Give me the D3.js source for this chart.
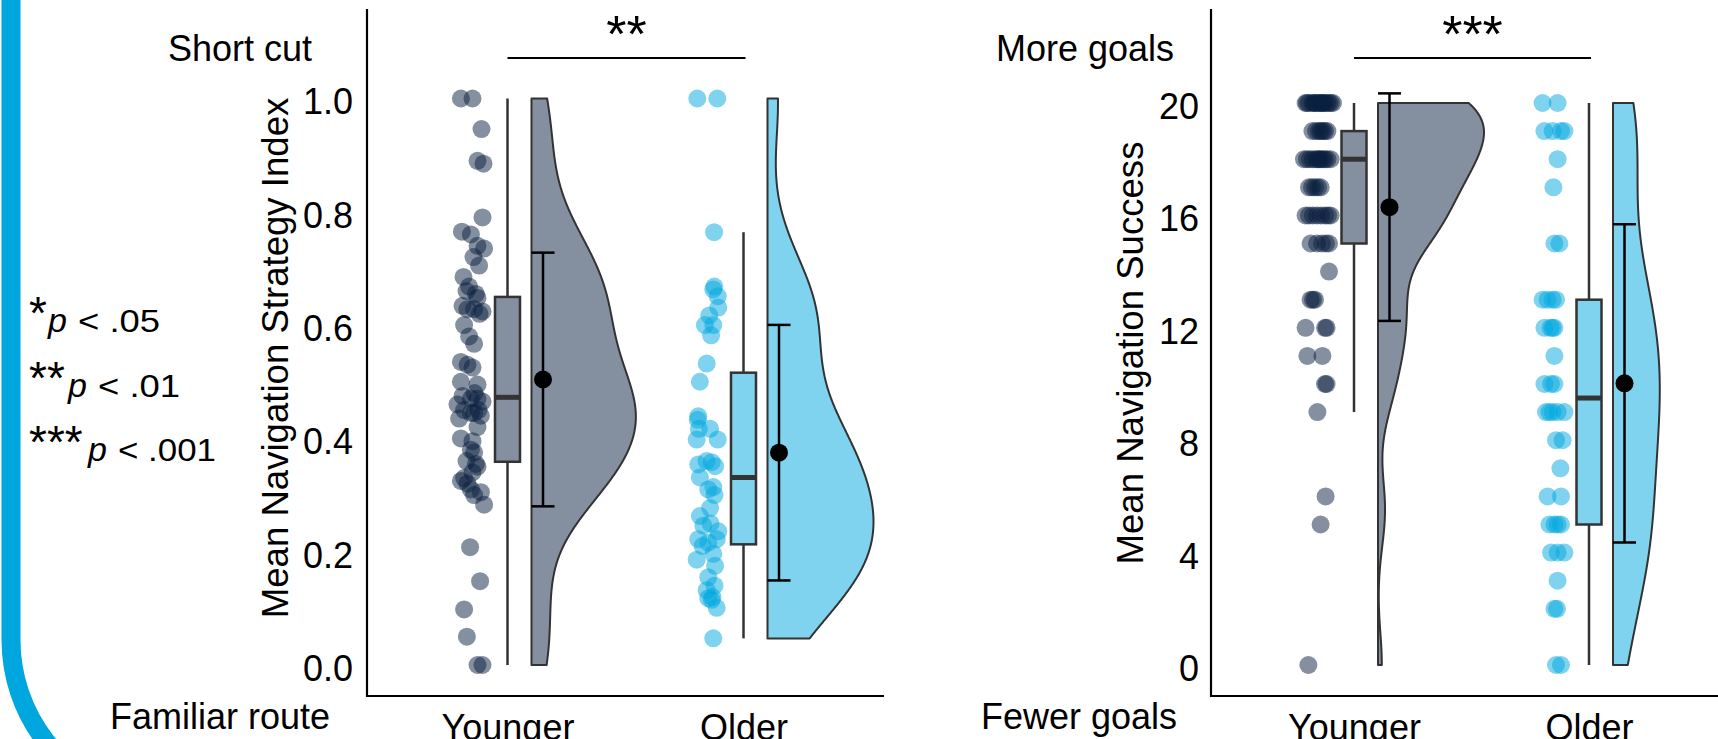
<!DOCTYPE html>
<meta charset="utf-8">
<script src="https://d3js.org/d3.v7.min.js"></script>
<body style="margin: 0; background: #fff;">
<svg id="chart" width="1718" height="739"></svg>
</body>

<style>
  text { font-family: "Liberation Sans", Arial, Helvetica, sans-serif; fill: #000; }
</style>

<script>
// ---- data ----
var groups = ["Younger", "Older"];
var groupColors = ["#0a1f40", "#00a7df"];

// Mean Navigation Strategy Index (one point per participant) + horizontal jitter (-1..1)
var strategyYounger = [1.0, 1.0, 0.946, 0.89, 0.885, 0.79, 0.765, 0.76, 0.74, 0.735, 0.72, 0.705,
  0.685, 0.668, 0.66, 0.655, 0.648, 0.634, 0.628, 0.628, 0.624, 0.62, 0.60, 0.58, 0.567, 0.535,
  0.53, 0.525, 0.50, 0.495, 0.48, 0.475, 0.47, 0.47, 0.465, 0.46, 0.45, 0.45, 0.445, 0.44, 0.445,
  0.435, 0.42, 0.40, 0.395, 0.38, 0.375, 0.36, 0.355, 0.35, 0.34, 0.33, 0.325, 0.32, 0.31, 0.305,
  0.30, 0.283, 0.208, 0.148, 0.098, 0.05, 0.0, 0.0];
var strategyYoungerJitter = [-0.58, 0, 0.45, 0.25, 0.55, 0.5, -0.53, -0.08, 0.25, 0.58, 0.05, 0.33,
  -0.45, -0.17, -0.3, 0.17, 0.25, -0.5, -0.25, 0.08, 0.5, 0.35, -0.42, -0.17, 0.08, -0.58,
  -0.25, 0, -0.58, 0.25, 0.1, -0.5, -0.08, 0.25, 0.5, -0.75, -0.42, 0.3, 0.08, 0.42, -0.08,
  -0.67, 0.25, -0.58, 0, -0.08, 0.08, -0.3, 0.17, 0.25, 0, -0.42, -0.58, -0.25, -0.08, 0.42,
  0.08, 0.58, -0.12, 0.38, -0.42, -0.28, 0.25, 0.5];

var strategyOlder = [1.0, 1.0, 0.764, 0.668, 0.663, 0.651, 0.631, 0.617, 0.60, 0.60, 0.582, 0.532,
  0.50, 0.439, 0.433, 0.417, 0.417, 0.398, 0.398, 0.36, 0.358, 0.354, 0.351, 0.331, 0.314, 0.31,
  0.30, 0.277, 0.263, 0.25, 0.246, 0.236, 0.222, 0.222, 0.216, 0.21, 0.196, 0.186, 0.175, 0.155,
  0.14, 0.132, 0.12, 0.118, 0.115, 0.101, 0.047];
var strategyOlderJitter = [-0.56, 0.44, 0.28, 0.29, 0.24, 0.46, 0.49, 0.04, -0.18, 0.24, 0.13, -0.09,
  -0.43, -0.51, -0.54, -0.48, 0.08, -0.59, 0.46, -0.1, 0.16, -0.51, 0.33, -0.43, 0.24, -0.01,
  0.3, 0.08, -0.43, 0.1, -0.26, 0.49, -0.51, 0.41, -0.01, -0.3, 0.24, -0.59, 0.33, -0.01,
  0.3, -0.09, 0.2, -0.01, 0.16, 0.41, 0.24];

// Mean Navigation Success (goals reached, 0..20)
var successYounger = [20, 20, 20, 20, 20, 20, 20, 20, 20, 20, 20, 20, 20, 20, 20, 20,
  19, 19, 19, 19, 19, 19, 19,
  18, 18, 18, 18, 18, 18, 18, 18, 18, 18, 18, 18,
  17, 17, 17, 17, 17,
  16, 16, 16, 16, 16, 16, 16, 16,
  15, 15, 15, 15, 15,
  14, 13, 13, 13, 12, 12, 12, 11, 11, 10, 10, 9, 6, 5, 0];
var successYoungerJitter = [-0.67, -0.5, -0.33, -0.2, -0.1, 0, 0.1, 0.2, 0.3, 0.4, 0.5, 0.6, 0.7, -0.6, 0.15, -0.25,
  -0.33, -0.15, 0, 0.1, 0.2, 0.3, 0.42,
  -0.75, -0.6, -0.45, -0.3, -0.15, 0, 0.1, 0.2, 0.3, 0.42, 0.58, -0.05,
  -0.5, -0.35, -0.2, -0.05, 0.08,
  -0.67, -0.5, -0.3, -0.1, 0.1, 0.3, 0.45, 0.58,
  -0.42, -0.1, 0.15, 0.35, 0.5,
  0.5, -0.42, -0.3, -0.2, -0.67, 0.3, 0.38, -0.58, 0.17, 0.3, 0.38, -0.08, 0.33, 0.08, -0.53];

var successOlder = [20, 20, 19, 19, 19, 19, 18, 17, 15, 15,
  13, 13, 13, 13, 12, 12, 12, 12, 11, 10, 10, 10,
  9, 9, 9, 9, 9, 8, 8, 7, 6, 6,
  5, 5, 5, 5, 4, 4, 4, 3, 2, 2, 0, 0];
var successOlderJitter = [-0.57, 0.18, -0.48, -0.07, 0.35, 0.52, 0.18, -0.03, 0.02, 0.27,
  -0.57, -0.32, -0.07, 0.1, -0.18, -0.48, -0.07, 0.02, 0.02, -0.48, -0.15, 0.02,
  -0.4, -0.23, -0.07, 0.52, 0.18, 0.1, 0.43, 0.32, -0.32, 0.35,
  -0.23, 0.02, 0.35, 0.18, -0.15, 0.18, 0.52, 0.18, 0.02, 0.15, 0.1, 0.35];

var strategyTicks = [0, 0.2, 0.4, 0.6, 0.8, 1.0];
var successTicks = [0, 4, 8, 12, 16, 20];
var pStars = ["*", "**", "***"];
var pValues = [".05", ".01", ".001"];

// ---- layout ----
var svg = d3.select("#chart");
var AXIS_Y = 696, AXIS_TOP = 9;
var VIOLIN_MAX = 106;

var panels = [
  { values: [strategyYounger, strategyOlder], jitter: [strategyYoungerJitter, strategyOlderJitter],
    domain: [0, 1], range: [665, 98.5], ticks: strategyTicks, fmt: d3.format(".1f"),
    axisX: 367, axisEnd: 884, centers: [507.5, 743.5], tickPad: 14,
    title: "Mean Navigation Strategy Index", titleX: 288, titleY: 358,
    top: "Short cut", topX: 312, bottom: "Familiar route", bottomX: 330, sig: "**" },
  { values: [successYounger, successOlder], jitter: [successYoungerJitter, successOlderJitter],
    domain: [0, 20], range: [665, 103], ticks: successTicks, fmt: d3.format("d"),
    axisX: 1211, axisEnd: 1718, centers: [1354, 1589], tickPad: 12,
    title: "Mean Navigation Success", titleX: 1143, titleY: 353,
    top: "More goals", topX: 1174, bottom: "Fewer goals", bottomX: 1177, sig: "***" }
];

function gauss(u) { return Math.exp(-0.5 * u * u) / Math.sqrt(2 * Math.PI); }

// R's bw.nrd0
function bwNrd0(v) {
  var s = v.slice().sort(d3.ascending);
  var iqr = d3.quantile(s, 0.75) - d3.quantile(s, 0.25);
  var lo = Math.min(d3.deviation(s), iqr / 1.34);
  return 0.9 * lo * Math.pow(s.length, -0.2);
}

// gaussian kde, trimmed to the data range
function density(v) {
  var bw = bwNrd0(v), lo = d3.min(v), hi = d3.max(v);
  return d3.range(512).map(function(i) {
    var t = lo + (hi - lo) * i / 511;
    return [t, d3.mean(v, function(d) { return gauss((t - d) / bw); }) / bw];
  });
}

panels.forEach(function(p) {
  var y = d3.scaleLinear().domain(p.domain).range(p.range);
  var x = d3.scalePoint().domain(groups).range(p.centers);
  var g = svg.append("g");

  // y axis labels
  var ax = g.append("g")
      .attr("transform", "translate(" + p.axisX + ",0)")
      .call(d3.axisLeft(y).tickValues(p.ticks).tickSize(0).tickPadding(p.tickPad).tickFormat(p.fmt));
  ax.select(".domain").remove();
  ax.selectAll("text").attr("font-size", 36).attr("dy", "0.43em")
    .style("font-family", "'Liberation Sans', Arial, sans-serif");

  // x axis labels
  var bx = g.append("g")
      .attr("transform", "translate(0," + AXIS_Y + ")")
      .call(d3.axisBottom(x).tickSize(0).tickPadding(18));
  bx.select(".domain").remove();
  bx.selectAll("text").attr("font-size", 36)
    .style("font-family", "'Liberation Sans', Arial, sans-serif");

  // axis lines
  g.append("line").attr("x1", p.axisX).attr("x2", p.axisX).attr("y1", AXIS_TOP).attr("y2", AXIS_Y + 1)
    .attr("stroke", "#000").attr("stroke-width", 2.2);
  g.append("line").attr("x1", p.axisX).attr("x2", p.axisEnd).attr("y1", AXIS_Y).attr("y2", AXIS_Y)
    .attr("stroke", "#000").attr("stroke-width", 2.2);

  // titles
  g.append("text")
    .attr("transform", "translate(" + p.titleX + "," + p.titleY + ") rotate(-90)")
    .attr("text-anchor", "middle").attr("font-size", 36.6).text(p.title);
  g.append("text").attr("x", p.topX).attr("y", 61).attr("text-anchor", "end")
    .attr("font-size", 36).text(p.top);
  g.append("text").attr("x", p.bottomX).attr("y", 729).attr("text-anchor", "end")
    .attr("font-size", 36).text(p.bottom);

  // significance bracket
  g.append("line").attr("x1", x(groups[0])).attr("x2", x(groups[1]) + 2)
    .attr("y1", 58).attr("y2", 58).attr("stroke", "#000").attr("stroke-width", 1.8);
  g.append("text").attr("x", (x(groups[0]) + x(groups[1])) / 2 + 1).attr("y", 52)
    .attr("text-anchor", "middle").attr("font-size", 52).text(p.sig);

  // violin densities, area-scaled within the panel
  var dens = p.values.map(density);
  var maxD = d3.max(dens, function(d) { return d3.max(d, function(e) { return e[1]; }); });

  groups.forEach(function(grp, i) {
    var c = x(grp);
    var vals = p.values[i];
    var sorted = vals.slice().sort(d3.ascending);
    var col = groupColors[i];
    var q1 = d3.quantile(sorted, 0.25), med = d3.quantile(sorted, 0.5), q3 = d3.quantile(sorted, 0.75);
    var iqr = q3 - q1;
    var wLo = d3.min(sorted.filter(function(v) { return v >= q1 - 1.5 * iqr; }));
    var wHi = d3.max(sorted.filter(function(v) { return v <= q3 + 1.5 * iqr; }));
    var mean = d3.mean(vals), sd = d3.deviation(vals);

    // jittered points
    g.append("g").selectAll("circle")
      .data(vals.map(function(v, k) { return [v, p.jitter[i][k]]; }))
      .join("circle")
        .attr("cx", function(d) { return c - 35 + d[1] * 20; })
        .attr("cy", function(d) { return y(d[0]); })
        .attr("r", 9)
        .attr("fill", col).attr("fill-opacity", 0.5);

    // boxplot
    var bw = 12.5;
    g.append("line").attr("x1", c).attr("x2", c).attr("y1", y(wHi)).attr("y2", y(q3))
      .attr("stroke", "#333").attr("stroke-width", 2.5);
    g.append("line").attr("x1", c).attr("x2", c).attr("y1", y(q1)).attr("y2", y(wLo))
      .attr("stroke", "#333").attr("stroke-width", 2.5);
    g.append("rect").attr("x", c - bw).attr("width", 2 * bw)
      .attr("y", y(q3)).attr("height", y(q1) - y(q3))
      .attr("fill", col).attr("fill-opacity", 0.5)
      .attr("stroke", "#333").attr("stroke-width", 2.5);
    g.append("line").attr("x1", c - bw).attr("x2", c + bw).attr("y1", y(med)).attr("y2", y(med))
      .attr("stroke", "#333").attr("stroke-width", 5);

    // half violin
    var x0 = c + 24;
    var area = d3.area()
      .y(function(d) { return y(d[0]); })
      .x0(x0)
      .x1(function(d) { return x0 + d[1] / maxD * VIOLIN_MAX; });
    g.append("path").datum(dens[i]).attr("d", area)
      .attr("fill", col).attr("fill-opacity", 0.5)
      .attr("stroke", "#333").attr("stroke-width", 2).attr("stroke-linejoin", "round");

    // mean +/- SD
    var ex = c + 35.5;
    g.append("line").attr("x1", ex).attr("x2", ex).attr("y1", y(mean + sd)).attr("y2", y(mean - sd))
      .attr("stroke", "#000").attr("stroke-width", 2.5);
    [mean + sd, mean - sd].forEach(function(v) {
      g.append("line").attr("x1", ex - 11.5).attr("x2", ex + 11.5).attr("y1", y(v)).attr("y2", y(v))
        .attr("stroke", "#000").attr("stroke-width", 2.5);
    });
    g.append("circle").attr("cx", ex).attr("cy", y(mean)).attr("r", 9).attr("fill", "#000");
  });
});

// blue bracket on the left edge
svg.append("path")
  .attr("d", "M11,-5 V640 A165,165 0 0 0 136,800")
  .attr("fill", "none").attr("stroke", "#00a6de").attr("stroke-width", 19);

// significance legend
var legend = svg.append("g");
pStars.forEach(function(s, i) {
  var base = 332 + i * 64.5;
  var px = 48 + i * 20;
  legend.append("text").attr("x", 29).attr("y", base - 3).attr("font-size", 46).text(s);
  legend.append("text").attr("x", px).attr("y", base).attr("font-size", 34)
    .attr("font-style", "italic").text("p");
  legend.append("text").attr("x", px + 30).attr("y", base).attr("font-size", 31)
    .attr("textLength", 34 + pValues[i].length * 16).attr("lengthAdjust", "spacingAndGlyphs")
    .text("< " + pValues[i]);
});
</script>
